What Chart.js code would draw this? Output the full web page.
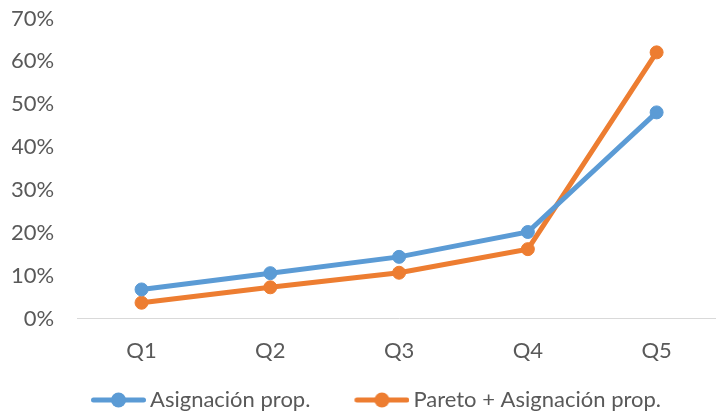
<!DOCTYPE html>
<html>
<head>
<meta charset="utf-8">
<script src="https://cdn.jsdelivr.net/npm/chart.js@4/dist/chart.umd.min.js"></script>
<style>
  html, body { margin: 0; padding: 0; background: #fff; overflow: hidden; }
  /* the plot area runs a few pixels past the right edge, as in the original */
  #wrap { width: 721px; height: 414px; }
</style>
</head>
<body>
<div id="wrap"><canvas id="chart"></canvas></div>
<script>
var categories = ["Q1", "Q2", "Q3", "Q4", "Q5"];
var asignacion = [6.8, 10.6, 14.4, 20.2, 48.1];
var paretoAsignacion = [3.7, 7.3, 10.7, 16.2, 62.1];
var yTicks = [0, 10, 20, 30, 40, 50, 60, 70];

var blue = "#5B9BD5";
var orange = "#ED7D31";
var textColor = "#595959";
var fontFamily = "Lato, 'Open Sans', sans-serif";

// legend marker: line with a dot, drawn at the right side of the image
// so that it sits close to the label text
function legendIcon(color) {
  var c = document.createElement("canvas");
  c.width = 81;
  c.height = 18;
  var ctx = c.getContext("2d");
  ctx.strokeStyle = color;
  ctx.lineWidth = 5;
  ctx.lineCap = "round";
  ctx.beginPath();
  ctx.moveTo(28.5, 9);
  ctx.lineTo(78.5, 9);
  ctx.stroke();
  ctx.fillStyle = color;
  ctx.beginPath();
  ctx.arc(53.5, 9, 7.5, 0, Math.PI * 2);
  ctx.fill();
  return c;
}

var ctx = document.getElementById("chart").getContext("2d");
var chart = new Chart(ctx, {
  type: "line",
  data: {
    labels: categories,
    datasets: [
      {
        label: "Asignación prop.",
        data: asignacion,
        borderColor: blue,
        backgroundColor: blue,
        borderWidth: 5,
        pointRadius: 6.5,
        pointBorderWidth: 1,
        pointBackgroundColor: blue,
        pointBorderColor: blue,
        tension: 0,
        clip: false,
      },
      {
        label: "Pareto + Asignación prop.",
        data: paretoAsignacion,
        borderColor: orange,
        backgroundColor: orange,
        borderWidth: 5,
        pointRadius: 6.5,
        pointBorderWidth: 1,
        pointBackgroundColor: orange,
        pointBorderColor: orange,
        tension: 0,
        clip: false,
      },
    ],
  },
  options: {
    responsive: true,
    maintainAspectRatio: false,
    animation: false,
    layout: { autoPadding: false, padding: { top: 0, right: 0, left: 12, bottom: -7 } },
    scales: {
      x: {
        offset: true,
        grid: { display: false, drawTicks: false },
        border: { display: true, color: "#D9D9D9", width: 1 },
        ticks: {
          color: textColor,
          font: { family: fontFamily, size: 22 },
          padding: 19,
        },
        afterFit: function (scale) {
          scale.height -= 19;
        },
      },
      y: {
        min: 0,
        max: 70,
        afterBuildTicks: function (axis) {
          axis.ticks = yTicks.map(function (v) { return { value: v }; });
        },
        grid: { display: false, drawTicks: false },
        border: { display: false },
        ticks: {
          color: textColor,
          font: { family: fontFamily, size: 22 },
          padding: 23,
          callback: function (v) { return v + "%"; },
        },
        afterFit: function (scale) {
          scale.width -= 24;
          scale.paddingTop = 18.5;
        },
      },
    },
    plugins: {
      tooltip: { enabled: false },
      legend: {
        position: "bottom",
        maxWidth: 693,
        labels: {
          color: textColor,
          font: { family: fontFamily, size: 22 },
          usePointStyle: true,
          pointStyleWidth: 67,
          padding: 25,
          generateLabels: function (chart) {
            return chart.data.datasets.map(function (ds, i) {
              return {
                text: ds.label,
                fontColor: textColor,
                pointStyle: legendIcon(ds.borderColor),
                datasetIndex: i,
                lineWidth: 0,
              };
            });
          },
        },
      },
    },
  },
});
</script>
</body>
</html>
